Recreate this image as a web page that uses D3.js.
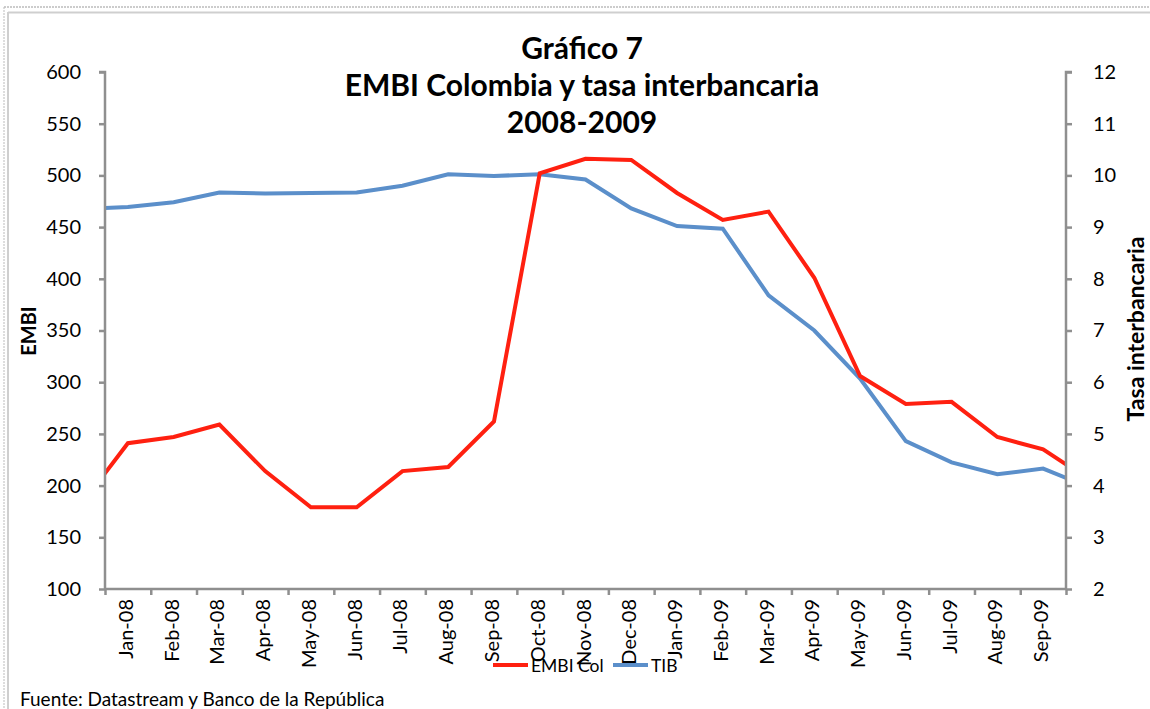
<!DOCTYPE html>
<html>
<head>
<meta charset="utf-8">
<script src="https://cdn.jsdelivr.net/npm/d3@7"></script>
<style>
  body { margin: 0; background: #fff; }
  svg { display: block; font-family: Lato, "Open Sans", sans-serif; }
</style>
</head>
<body>
<svg id="chart" width="1150" height="709"></svg>
<script>
// visible months on the axis
var tickLabels = ["Jan-08","Feb-08","Mar-08","Apr-08","May-08","Jun-08","Jul-08","Aug-08","Sep-08",
  "Oct-08","Nov-08","Dec-08","Jan-09","Feb-09","Mar-09","Apr-09","May-09","Jun-09","Jul-09","Aug-09","Sep-09"];
// series months incl. one month either side that is cut at the plot edge
var months = ["Dec-07"].concat(tickLabels, ["Oct-09"]);
var embi = [183, 241, 247, 259, 214, 179, 179, 214, 218, 262, 502, 516, 515, 483, 457, 465, 401, 306, 279, 281, 247, 235, 206];
var tib = [9.35, 9.39, 9.48, 9.67, 9.65, 9.66, 9.67, 9.80, 10.02, 9.99, 10.02, 9.92, 9.36, 9.02, 8.97, 7.68, 7.00, 6.07, 4.86, 4.45, 4.22, 4.33, 3.97];
var leftTicks = [100, 150, 200, 250, 300, 350, 400, 450, 500, 550, 600];
var rightTicks = [2, 3, 4, 5, 6, 7, 8, 9, 10, 11, 12];

var svg = d3.select("#chart");
var pLeft = 105, pRight = 1066, pTop = 72, pBottom = 589;
var axisColor = "#8f8f8f";

// frame of the original page
svg.append("line").attr("x1", 4).attr("x2", 1150).attr("y1", 7).attr("y2", 7)
  .attr("stroke", "#999").attr("stroke-dasharray", "2,1").attr("stroke-width", 1);
svg.append("line").attr("x1", 4).attr("x2", 4).attr("y1", 7).attr("y2", 709)
  .attr("stroke", "#bbb").attr("stroke-dasharray", "2,1").attr("stroke-width", 1);
svg.append("line").attr("x1", 8).attr("x2", 1150).attr("y1", 12.5).attr("y2", 12.5)
  .attr("stroke", "#cfcfcf").attr("stroke-width", 2);
svg.append("line").attr("x1", 8).attr("x2", 8).attr("y1", 12).attr("y2", 709)
  .attr("stroke", "#cfcfcf").attr("stroke-width", 2);

var band = d3.scaleBand().domain(tickLabels).range([pLeft, pRight]).paddingInner(0).paddingOuter(0);
var xi = d3.scaleLinear().domain([-0.5, tickLabels.length - 0.5]).range([pLeft, pRight]);
var yL = d3.scaleLinear().domain([100, 600]).range([pBottom, pTop]);
var yR = d3.scaleLinear().domain([2, 12]).range([pBottom, pTop]);

svg.append("defs").append("clipPath").attr("id", "plot")
  .append("rect").attr("x", pLeft).attr("y", 0).attr("width", pRight - pLeft).attr("height", 709);

// lines (index 0 of months is one step before the first label)
var lineL = d3.line().x(function (d, i) { return xi(i - 1); }).y(function (d) { return yL(d); });
var lineR = d3.line().x(function (d, i) { return xi(i - 1); }).y(function (d) { return yR(d); });

svg.append("path").datum(tib).attr("d", lineR).attr("fill", "none")
  .attr("stroke", "#5b8fca").attr("stroke-width", 4).attr("clip-path", "url(#plot)");
svg.append("path").datum(embi).attr("d", lineL).attr("fill", "none")
  .attr("stroke", "#ff2010").attr("stroke-width", 4).attr("clip-path", "url(#plot)");

// left axis
var gL = svg.append("g").attr("transform", "translate(" + pLeft + ",0)")
  .call(d3.axisLeft(yL).tickValues(leftTicks).tickSize(6).tickPadding(18));
// right axis
var gR = svg.append("g").attr("transform", "translate(" + pRight + ",0)")
  .call(d3.axisRight(yR).tickValues(rightTicks).tickSize(6).tickPadding(21));
// bottom axis: ticks at band boundaries
var bounds = d3.range(-0.5, tickLabels.length, 1);
var gB = svg.append("g").attr("transform", "translate(0," + pBottom + ")")
  .call(d3.axisBottom(xi).tickValues(bounds).tickSize(6).tickFormat(""));
var gLab = svg.append("g").attr("transform", "translate(0," + pBottom + ")")
  .call(d3.axisBottom(band).tickSize(0));

[gL, gR, gB, gLab].forEach(function (g) {
  g.select(".domain").attr("stroke", axisColor).attr("stroke-width", 2.5);
  g.selectAll(".tick line").attr("stroke", axisColor).attr("stroke-width", 2.5);
});
gLab.select(".domain").remove();
gB.select(".domain").attr("d", "M" + pLeft + ",0H" + pRight);
gL.select(".domain").attr("d", "M-6," + pTop + "H0V" + pBottom);
gR.select(".domain").attr("d", "M6," + pTop + "H0V" + pBottom);

gL.selectAll(".tick text").attr("font-size", 20).attr("fill", "#000").attr("font-family", "Lato, sans-serif");
gR.selectAll(".tick text").attr("font-size", 20).attr("fill", "#000").attr("font-family", "Lato, sans-serif");
gLab.selectAll(".tick text")
  .attr("font-size", 20).attr("fill", "#000").attr("font-family", "Lato, sans-serif")
  .attr("transform", "rotate(-90)")
  .attr("text-anchor", "end")
  .attr("x", -10).attr("y", -2).attr("dy", "0.35em");

// titles
var title = ["Gráfico 7", "EMBI Colombia y tasa interbancaria", "2008-2009"];
svg.append("g").selectAll("text").data(title).enter().append("text")
  .attr("x", 582).attr("y", function (d, i) { return 59 + i * 37; })
  .attr("text-anchor", "middle").attr("font-size", 30).attr("font-weight", "bold")
  .text(function (d) { return d; });

svg.append("text").attr("transform", "translate(36,331) rotate(-90)")
  .attr("text-anchor", "middle").attr("font-size", 20).attr("font-weight", "bold").text("EMBI");
svg.append("text").attr("transform", "translate(1144,329) rotate(-90)")
  .attr("text-anchor", "middle").attr("font-size", 23).attr("font-weight", "bold").text("Tasa interbancaria");

// legend
var legend = [{ name: "EMBI Col", color: "#ff2010", x: 493 }, { name: "TIB", color: "#5b8fca", x: 613 }];
var lg = svg.append("g").selectAll("g").data(legend).enter().append("g")
  .attr("transform", function (d) { return "translate(" + d.x + ",665)"; });
lg.append("line").attr("x1", 0).attr("x2", 35).attr("stroke", function (d) { return d.color; }).attr("stroke-width", 4);
lg.append("text").attr("x", 38).attr("y", 7).attr("font-size", 17.5).text(function (d) { return d.name; });

svg.append("text").attr("x", 20).attr("y", 706).attr("font-size", 19)
  .text("Fuente: Datastream y Banco de la República");
</script>
</body>
</html>
